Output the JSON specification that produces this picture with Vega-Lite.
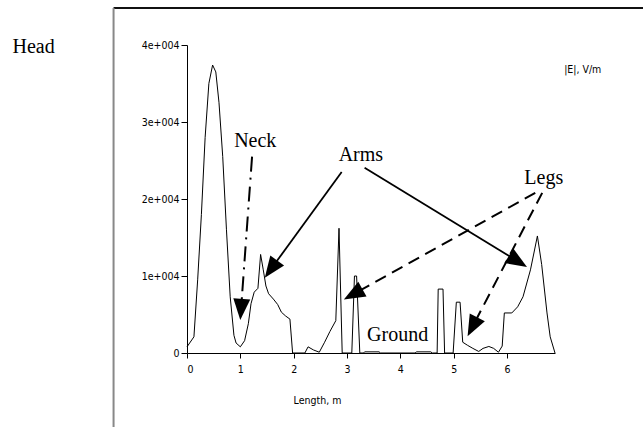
{
  "$schema": "https://vega.github.io/schema/vega-lite/v6.json",
  "autosize": {"type": "none"},
  "padding": {"left": 187, "top": 45, "right": 88, "bottom": 74},
  "width": 368,
  "height": 308,
  "background": "white",
  "config": {
    "view": {"stroke": null},
    "axis": {
      "grid": false,
      "domainColor": "black",
      "tickColor": "black",
      "labelColor": "black",
      "labelFont": "Liberation Sans Narrow, DejaVu Sans Condensed, sans-serif",
      "labelFontSize": 10.5,
      "titleFont": "Liberation Sans Narrow, DejaVu Sans Condensed, sans-serif",
      "titleFontSize": 10.5,
      "titleFontWeight": "normal",
      "titleColor": "black"
    }
  },
  "datasets": {
    "curve": [
      {"x": 0, "y": 800}, {"x": 0.13, "y": 2100}, {"x": 0.2, "y": 9500}, {"x": 0.27, "y": 18000},
      {"x": 0.34, "y": 28000}, {"x": 0.41, "y": 35000}, {"x": 0.48, "y": 37400}, {"x": 0.54, "y": 36500},
      {"x": 0.6, "y": 32500}, {"x": 0.67, "y": 25500}, {"x": 0.74, "y": 16000}, {"x": 0.81, "y": 7300},
      {"x": 0.88, "y": 2300}, {"x": 0.92, "y": 1300}, {"x": 1.0, "y": 800}, {"x": 1.08, "y": 1600},
      {"x": 1.15, "y": 3800}, {"x": 1.2, "y": 6400}, {"x": 1.26, "y": 7900}, {"x": 1.33, "y": 8400},
      {"x": 1.38, "y": 12800}, {"x": 1.43, "y": 10800}, {"x": 1.48, "y": 8700}, {"x": 1.53, "y": 7700},
      {"x": 1.62, "y": 7000}, {"x": 1.7, "y": 6300}, {"x": 1.77, "y": 5300}, {"x": 1.85, "y": 4800},
      {"x": 1.93, "y": 4400}, {"x": 1.98, "y": 0}, {"x": 2.21, "y": 0}, {"x": 2.27, "y": 800},
      {"x": 2.37, "y": 400}, {"x": 2.48, "y": 100}, {"x": 2.58, "y": 1400}, {"x": 2.68, "y": 2800},
      {"x": 2.79, "y": 4200}, {"x": 2.85, "y": 16200}, {"x": 2.91, "y": 0}, {"x": 3.09, "y": 0},
      {"x": 3.14, "y": 10000}, {"x": 3.18, "y": 10000}, {"x": 3.24, "y": 0}, {"x": 3.31, "y": 0},
      {"x": 3.33, "y": 150}, {"x": 3.6, "y": 150}, {"x": 3.63, "y": 0}, {"x": 4.28, "y": 0},
      {"x": 4.3, "y": 150}, {"x": 4.57, "y": 150}, {"x": 4.6, "y": 0}, {"x": 4.69, "y": 0},
      {"x": 4.71, "y": 8300}, {"x": 4.8, "y": 8300}, {"x": 4.83, "y": 0}, {"x": 4.99, "y": 0},
      {"x": 5.05, "y": 6600}, {"x": 5.12, "y": 6600}, {"x": 5.17, "y": 1400}, {"x": 5.26, "y": 1000},
      {"x": 5.36, "y": 600}, {"x": 5.47, "y": 200}, {"x": 5.55, "y": 600}, {"x": 5.66, "y": 850},
      {"x": 5.75, "y": 600}, {"x": 5.84, "y": 100}, {"x": 5.91, "y": 900}, {"x": 5.95, "y": 5200},
      {"x": 6.09, "y": 5200}, {"x": 6.2, "y": 6000}, {"x": 6.3, "y": 7300}, {"x": 6.44, "y": 10800},
      {"x": 6.57, "y": 15200}, {"x": 6.65, "y": 11500}, {"x": 6.75, "y": 5200}, {"x": 6.81, "y": 2100},
      {"x": 6.9, "y": 0}
    ],
    "frame": [
      {"x": -1.377, "y": 44800, "x2": 8.6, "y2": 44800, "c": "top"},
      {"x": -1.377, "y": 44800, "x2": -1.377, "y2": -10000, "c": "left"}
    ],
    "arrows": [
      {"x": 2.9, "y": 23500, "x2": 1.575, "y2": 10900, "style": "solid"},
      {"x": 3.33, "y": 24060, "x2": 6.205, "y2": 11900, "style": "solid"},
      {"x": 6.53, "y": 20800, "x2": 3.115, "y2": 7630, "style": "dash"},
      {"x": 6.66, "y": 20800, "x2": 5.352, "y2": 3400, "style": "dash"},
      {"x": 1.22, "y": 25500, "x2": 1.013, "y2": 5650, "style": "dashdot"}
    ],
    "heads": [
      {"x": 1.575, "y": 10900, "angle": 215.8},
      {"x": 6.205, "y": 11900, "angle": 121.5},
      {"x": 3.115, "y": 7630, "angle": 240.9},
      {"x": 5.352, "y": 3400, "angle": 207.2},
      {"x": 1.013, "y": 5650, "angle": 184.1}
    ],
    "labels": [
      {"x": -2.876, "y": 39000, "text": "Head"},
      {"x": 1.28, "y": 26800, "text": "Neck"},
      {"x": 3.26, "y": 24950, "text": "Arms"},
      {"x": 6.69, "y": 21900, "text": "Legs"},
      {"x": 3.95, "y": 1500, "text": "Ground"}
    ],
    "unit": [
      {"x": 7.42, "y": 36300, "text": "|E|, V/m"}
    ]
  },
  "encoding": {
    "x": {
      "field": "x", "type": "quantitative",
      "scale": {"domain": [0, 6.9], "nice": false, "zero": false},
      "axis": {
        "values": [0, 1, 2, 3, 4, 5, 6], "tickSize": 5, "labelPadding": 6,
        "title": "Length, m", "titleX": 130, "titleY": 47, "titleAlign": "center", "titleBaseline": "middle"
      }
    },
    "y": {
      "field": "y", "type": "quantitative",
      "scale": {"domain": [0, 40000], "nice": false, "zero": false},
      "axis": {
        "values": [0, 10000, 20000, 30000, 40000], "tickSize": 6, "labelPadding": 2,
        "labelExpr": "datum.value == 0 ? '0' : (datum.value / 10000) + 'e+004'",
        "title": null
      }
    }
  },
  "layer": [
    {
      "data": {"name": "frame"},
      "mark": {"type": "rule", "strokeWidth": 2},
      "encoding": {
        "x2": {"field": "x2"}, "y2": {"field": "y2"},
        "color": {"field": "c", "type": "nominal", "scale": {"domain": ["top", "left"], "range": ["#111111", "#888888"]}, "legend": null}
      }
    },
    {
      "data": {"name": "curve"},
      "mark": {"type": "line", "color": "black", "strokeWidth": 1}
    },
    {
      "data": {"name": "arrows"},
      "transform": [{"filter": "datum.style == 'solid'"}],
      "mark": {"type": "rule", "color": "black", "strokeWidth": 1.8},
      "encoding": {"x2": {"field": "x2"}, "y2": {"field": "y2"}}
    },
    {
      "data": {"name": "arrows"},
      "transform": [{"filter": "datum.style == 'dash'"}],
      "mark": {"type": "rule", "color": "black", "strokeWidth": 2, "strokeDash": [12, 7]},
      "encoding": {"x2": {"field": "x2"}, "y2": {"field": "y2"}}
    },
    {
      "data": {"name": "arrows"},
      "transform": [{"filter": "datum.style == 'dashdot'"}],
      "mark": {"type": "rule", "color": "black", "strokeWidth": 2, "strokeDash": [15, 6, 2, 7]},
      "encoding": {"x2": {"field": "x2"}, "y2": {"field": "y2"}}
    },
    {
      "data": {"name": "heads"},
      "mark": {"type": "point", "shape": "M0,-1L0.8,1L-0.8,1Z", "filled": true, "color": "black", "opacity": 1, "size": 450},
      "encoding": {"angle": {"field": "angle", "type": "quantitative", "scale": null}}
    },
    {
      "data": {"name": "labels"},
      "mark": {"type": "text", "font": "Liberation Serif, Times New Roman, serif", "fontSize": 20, "align": "center", "baseline": "alphabetic", "color": "black"},
      "encoding": {"text": {"field": "text"}}
    },
    {
      "data": {"name": "unit"},
      "mark": {"type": "text", "font": "Liberation Sans Narrow, DejaVu Sans Condensed, sans-serif", "fontSize": 10.5, "align": "center", "baseline": "alphabetic", "color": "black"},
      "encoding": {"text": {"field": "text"}}
    }
  ]
}
